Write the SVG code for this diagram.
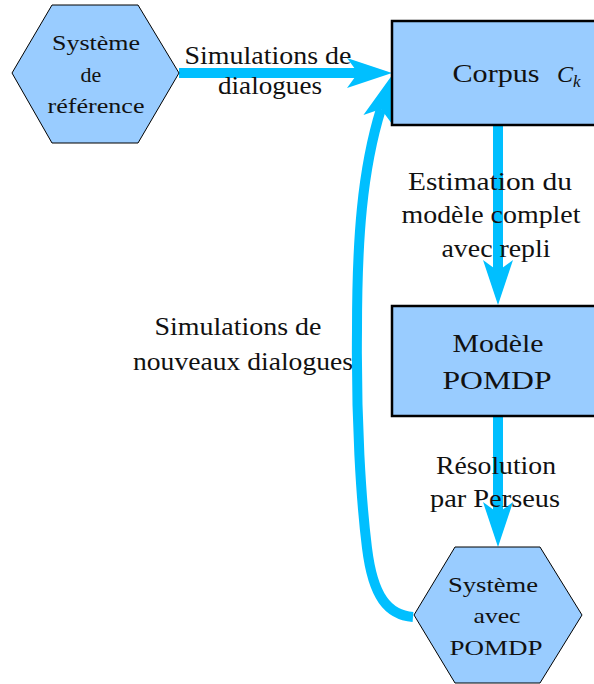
<svg xmlns="http://www.w3.org/2000/svg" width="594" height="684" viewBox="0 0 594 684">
<style>
  .hex { fill: #99ccff; stroke: #000; stroke-width: 1; }
  .box { fill: #99ccff; stroke: #000; stroke-width: 2.5; }
  .conn { fill: none; stroke: #00bfff; stroke-width: 10; }
  .t { font-family: "Liberation Serif", "DejaVu Serif", "Times New Roman", serif; fill: #111; text-anchor: middle; }
  .lbl { font-size: 26px; }
  .nt { font-size: 22px; }
  .it { font-family: "Liberation Serif", "DejaVu Serif", serif; font-style: italic; fill: #111; }
</style>
<defs>
  <marker id="ah" markerUnits="userSpaceOnUse" viewBox="-12 -16 48 32" markerWidth="48" markerHeight="32" refX="0" refY="0" orient="auto" overflow="visible">
    <path d="M34,0 L-11,-15 L0,0 L-11,15 Z" fill="#00bfff"/>
  </marker>
</defs>
<rect width="594" height="684" fill="#fff"/>
<g id="connectors">
  <path class="conn" d="M179 73 L358 73" marker-end="url(#ah)"/>
  <path class="conn" d="M498 125 L498 271" marker-end="url(#ah)"/>
  <path class="conn" d="M498 416 L498 513" marker-end="url(#ah)"/>
  <path class="conn" d="M413 617 C388 615 373 597 367 548 C361 500 356 420 357 330 C357 240 362 170 381 109" marker-end="url(#ah)"/>
</g>
<g id="sys-ref">
  <polygon class="hex" points="12,73 52,5 138,5 179,73 138,143 52,143"/>
  <text class="t nt" x="96" y="50" textLength="88" lengthAdjust="spacingAndGlyphs">Système</text>
  <text class="t nt" x="91" y="82">de</text>
  <text class="t nt" x="96" y="113" textLength="97" lengthAdjust="spacingAndGlyphs">référence</text>
</g>
<g id="corpus">
  <rect class="box" x="392" y="21" width="220" height="104"/>
  <text class="t lbl" x="496" y="82" textLength="87" lengthAdjust="spacingAndGlyphs">Corpus</text>
  <text class="it" x="557" y="82" font-size="24">C<tspan font-size="17" dy="5">k</tspan></text>
</g>
<g id="modele">
  <rect class="box" x="392" y="306" width="220" height="110"/>
  <text class="t lbl" x="498" y="352" textLength="91" lengthAdjust="spacingAndGlyphs">Modèle</text>
  <text class="t lbl" x="497" y="389" textLength="109" lengthAdjust="spacingAndGlyphs">POMDP</text>
</g>
<g id="sys-pomdp">
  <polygon class="hex" points="414,615 455,547 540,547 582,615 540,683 455,683"/>
  <text class="t nt" x="493" y="592" textLength="90" lengthAdjust="spacingAndGlyphs">Système</text>
  <text class="t nt" x="497" y="623" textLength="47" lengthAdjust="spacingAndGlyphs">avec</text>
  <text class="t nt" x="496" y="655" textLength="93" lengthAdjust="spacingAndGlyphs">POMDP</text>
</g>
<g id="labels">
  <text class="t lbl" x="268" y="64" textLength="167" lengthAdjust="spacingAndGlyphs">Simulations de</text>
  <text class="t lbl" x="270" y="94" textLength="104" lengthAdjust="spacingAndGlyphs">dialogues</text>
  <text class="t lbl" x="490" y="190" textLength="164" lengthAdjust="spacingAndGlyphs">Estimation du</text>
  <text class="t lbl" x="491" y="223" textLength="179" lengthAdjust="spacingAndGlyphs">modèle complet</text>
  <text class="t lbl" x="496" y="257" textLength="109" lengthAdjust="spacingAndGlyphs">avec repli</text>
  <text class="t lbl" x="496" y="474" textLength="120" lengthAdjust="spacingAndGlyphs">Résolution</text>
  <text class="t lbl" x="495" y="507" textLength="130" lengthAdjust="spacingAndGlyphs">par Perseus</text>
  <text class="t lbl" x="238" y="335" textLength="167" lengthAdjust="spacingAndGlyphs">Simulations de</text>
  <text class="t lbl" x="243" y="370" textLength="220" lengthAdjust="spacingAndGlyphs">nouveaux dialogues</text>
</g>
</svg>
